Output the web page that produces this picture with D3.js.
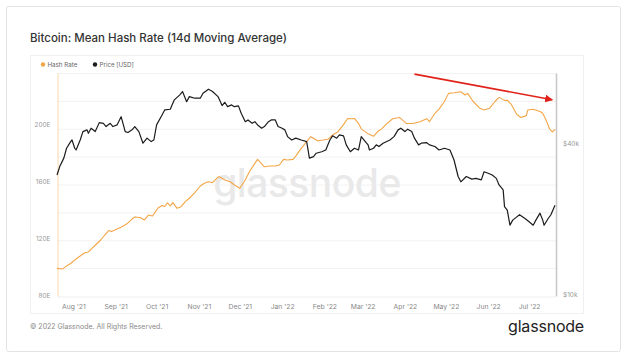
<!DOCTYPE html>
<html>
<head>
<meta charset="utf-8">
<script src="https://cdn.jsdelivr.net/npm/d3@7"></script>
<style>
  html, body { margin: 0; padding: 0; background: #fff; }
  svg { display: block; font-family: Inter, "Noto Sans", sans-serif; }
</style>
</head>
<body>
<svg id="chart" width="630" height="359"></svg>
<script>
// hash rate, 14d moving average (EH/s)
const hashDates = [
  "2021-07-20","2021-07-24","2021-07-27","2021-07-30","2021-08-03","2021-08-07","2021-08-09","2021-08-12","2021-08-15","2021-08-18",
  "2021-08-21","2021-08-24","2021-08-27","2021-08-29","2021-09-02","2021-09-06","2021-09-09","2021-09-13","2021-09-15","2021-09-19",
  "2021-09-22","2021-09-25","2021-09-28","2021-09-30","2021-10-02","2021-10-05","2021-10-07","2021-10-09","2021-10-11","2021-10-13",
  "2021-10-16","2021-10-19","2021-10-22","2021-10-25","2021-10-29","2021-11-02","2021-11-05","2021-11-08","2021-11-11","2021-11-15",
  "2021-11-16","2021-11-20","2021-11-24","2021-11-27","2021-12-01","2021-12-05","2021-12-08","2021-12-12","2021-12-14","2021-12-19",
  "2021-12-23","2021-12-27","2021-12-30","2022-01-02","2022-01-05","2022-01-09","2022-01-11","2022-01-15","2022-01-19","2022-01-22",
  "2022-01-27","2022-01-31","2022-02-04","2022-02-07","2022-02-11","2022-02-15","2022-02-18","2022-02-21","2022-02-23","2022-02-26",
  "2022-02-28","2022-03-05","2022-03-09","2022-03-12","2022-03-15","2022-03-18","2022-03-23","2022-03-28","2022-04-02","2022-04-07",
  "2022-04-12","2022-04-17","2022-04-19","2022-04-23","2022-04-26","2022-04-30","2022-05-03","2022-05-07","2022-05-12","2022-05-15",
  "2022-05-17","2022-05-21","2022-05-26","2022-05-29","2022-06-02","2022-06-06","2022-06-09","2022-06-13","2022-06-15","2022-06-18",
  "2022-06-22","2022-06-25","2022-06-29","2022-06-30","2022-07-04","2022-07-09","2022-07-11","2022-07-14","2022-07-16","2022-07-18","2022-07-20"
];
const hashRate = [
  98.7, 98.2, 100.4, 102.1, 105.3, 108.1, 109.5, 110.2, 113, 115.8,
  118.6, 122.1, 125.3, 124.6, 126.3, 128.1, 129.8, 133.3, 134.7, 134.4,
  132.6, 136.1, 135.4, 138.2, 141.1, 142.8, 142.1, 144.6, 142.5, 144.8,
  140.8, 142, 145.5, 147.9, 151.8, 156.5, 158.4, 159.5, 158.8, 162.8,
  163, 160.7, 159.5, 157.2, 154.9, 160.7, 166.5, 172.4, 175.2, 170,
  170.5, 170.5, 171.2, 175.2, 174.7, 175.2, 177.5, 182.9, 187.6, 191.1,
  188.2, 188.8, 189.5, 192.3, 194.6, 199.6, 203.9, 203.7, 203.9, 200.4,
  196.6, 193.1, 191.4, 194.7, 196.6, 199.6, 203.7, 204.6, 200.4, 200.4,
  201.6, 203.7, 201.6, 207.5, 210.4, 215.8, 221.5, 221.9, 222.6, 220.4,
  221.5, 215.8, 211, 209.8, 211, 215.8, 218.7, 216.6, 216.7, 213.7,
  206.7, 204.6, 205.9, 209.8, 210.4, 208.8, 207.5, 201.6, 196.6, 194.4, 196.3
];

// BTC price (thousands of USD)
const priceDates = [
  "2021-07-20","2021-07-22","2021-07-25","2021-07-27","2021-07-30","2021-07-31","2021-08-02","2021-08-03","2021-08-06","2021-08-08",
  "2021-08-11","2021-08-12","2021-08-14","2021-08-17","2021-08-20","2021-08-23","2021-08-25","2021-08-28","2021-08-30","2021-09-02",
  "2021-09-05","2021-09-08","2021-09-10","2021-09-13","2021-09-15","2021-09-18","2021-09-21","2021-09-24","2021-09-27","2021-09-29",
  "2021-10-01","2021-10-05","2021-10-07","2021-10-11","2021-10-14","2021-10-18","2021-10-20","2021-10-23","2021-10-25","2021-10-29",
  "2021-11-02","2021-11-04","2021-11-08","2021-11-11","2021-11-15","2021-11-18","2021-11-20","2021-11-22","2021-11-25","2021-11-27",
  "2021-11-30","2021-12-02","2021-12-05","2021-12-07","2021-12-10","2021-12-12","2021-12-14","2021-12-17","2021-12-19","2021-12-22",
  "2021-12-24","2021-12-27","2021-12-29","2022-01-01","2022-01-03","2022-01-05","2022-01-08","2022-01-11","2022-01-15","2022-01-19",
  "2022-01-21","2022-01-24","2022-01-26","2022-01-30","2022-02-02","2022-02-05","2022-02-07","2022-02-10","2022-02-12","2022-02-15",
  "2022-02-17","2022-02-20","2022-02-23","2022-02-26","2022-02-28","2022-03-03","2022-03-05","2022-03-06","2022-03-09","2022-03-11",
  "2022-03-13","2022-03-16","2022-03-21","2022-03-24","2022-03-27","2022-03-29","2022-04-01","2022-04-03","2022-04-06","2022-04-08",
  "2022-04-11","2022-04-13","2022-04-17","2022-04-19","2022-04-23","2022-04-26","2022-04-30","2022-05-04","2022-05-07","2022-05-10",
  "2022-05-12","2022-05-16","2022-05-20","2022-05-23","2022-05-27","2022-05-29","2022-06-01","2022-06-04","2022-06-07","2022-06-09",
  "2022-06-12","2022-06-13","2022-06-15","2022-06-17","2022-06-19","2022-06-22","2022-06-24","2022-06-28","2022-07-01","2022-07-04",
  "2022-07-06","2022-07-09","2022-07-11","2022-07-12","2022-07-15","2022-07-17","2022-07-20"
];
const priceK = [
  29.8, 32.2, 34.8, 38.1, 40.5, 41.1, 38.1, 37.5, 41.1, 44.4,
  45.1, 43.7, 45.8, 44.4, 48.2, 47.9, 46.5, 47.9, 46.5, 47.2,
  50.9, 44.4, 44.0, 45.1, 46.5, 44.4, 39.9, 41.8, 40.5, 41.1,
  47.2, 51.7, 54.2, 54.5, 59.4, 62.2, 64.1, 58.4, 61.2, 60.3,
  60.3, 63.1, 65.5, 64.1, 61.2, 56.4, 58.1, 55.8, 56.7, 55.8,
  56.2, 52.5, 48.6, 49.4, 47.9, 48.6, 47.2, 45.8, 46.5, 48.6,
  49.4, 49.4, 46.5, 45.8, 45.1, 42.4, 41.1, 41.8, 41.1, 40.5,
  34.8, 35.3, 36.4, 36.9, 37.5, 41.1, 42.7, 41.8, 43.1, 42.7,
  39.3, 36.9, 38.1, 37.5, 42.4, 40.5, 39.3, 37.5, 38.1, 39.3,
  38.7, 39.9, 41.1, 42.4, 45.1, 45.8, 44.4, 45.4, 44.4, 41.8,
  39.3, 39.9, 40.1, 39.3, 38.7, 37.5, 38.1, 37.5, 34.2, 29.4,
  28.0, 29.4, 28.7, 28.9, 28.5, 30.7, 30.3, 29.8, 28.9, 27.2,
  26.0, 22.3, 21.6, 18.8, 19.7, 20.3, 20.7, 20.0, 19.4, 18.8,
  19.7, 21.0, 19.7, 18.8, 20.0, 20.7, 22.6
];

const hashTicks = [80, 120, 160, 200];
const priceTicks = [10, 40];
// red trend arrow drawn on the hash rate scale
const arrowDates = ["2022-04-08", "2022-07-18"];
const arrowHash = [235, 217];

const parse = d3.timeParse("%Y-%m-%d");
const hashData = hashDates.map((d, i) => ({ date: parse(d), value: hashRate[i] }));
const priceData = priceDates.map((d, i) => ({ date: parse(d), value: priceK[i] }));

const svg = d3.select("#chart");
const plot = { left: 57, right: 556, top: 73, bottom: 296 };
const orange = "#f3a648";

// card + inner panel
svg.append("rect").attr("x", 6.5).attr("y", 6.5).attr("width", 614).attr("height", 345)
  .attr("fill", "#fff").attr("stroke", "#e3e3e3").attr("rx", 2);
svg.append("rect").attr("x", 30.5).attr("y", 55.5).attr("width", 553).attr("height", 258)
  .attr("fill", "#fff").attr("stroke", "#f0f0f0");

svg.append("text").attr("x", 30).attr("y", 42)
  .attr("font-size", 11.5).attr("font-weight", 500).attr("fill", "#333")
  .text("Bitcoin: Mean Hash Rate (14d Moving Average)");

const x = d3.scaleTime()
  .domain([parse("2021-07-20"), parse("2022-07-20")])
  .range([plot.left, plot.right - 1]);
const yHash = d3.scaleLinear().domain([79.3, 235.8]).range([plot.bottom, plot.top]);
const yPrice = d3.scaleLog().domain([9.82, 76]).range([plot.bottom, plot.top]);
const yGrid = d3.scaleLinear().domain([0, 8]).range([plot.bottom, plot.top]);

// grid lines
svg.append("g").selectAll("line").data(d3.range(1, 9)).join("line")
  .attr("x1", plot.left).attr("x2", plot.right)
  .attr("y1", d => yGrid(d) + 0.5).attr("y2", d => yGrid(d) + 0.5)
  .attr("stroke", "#f2f2f2");

// watermark
svg.append("text").attr("x", 307).attr("y", 197).attr("text-anchor", "middle")
  .attr("font-size", 39).attr("font-weight", 500).attr("fill", "#e9e9e9")
  .attr("letter-spacing", -0.5)
  .text("glassnode");

// bottom axis
const xAxis = svg.append("g").attr("transform", `translate(0,${plot.bottom + 0.5})`)
  .call(d3.axisBottom(x).ticks(d3.timeMonth.every(1)).tickFormat(d3.timeFormat("%b '%y")).tickSize(0).tickPadding(8));
xAxis.select(".domain").attr("stroke", "#eee");
xAxis.selectAll("text").attr("font-size", 6.8).attr("fill", "#888").attr("font-family", "Inter, sans-serif");

// left axis
const yAxisL = svg.append("g").attr("transform", `translate(${plot.left + 0.5},0)`)
  .call(d3.axisLeft(yHash).tickValues(hashTicks).tickFormat(d => d + "E").tickSize(0).tickPadding(7));
yAxisL.select(".domain").attr("stroke", "#f8d9ae");
yAxisL.selectAll("text").attr("font-size", 6.5).attr("fill", "#999").attr("font-family", "Inter, sans-serif");

// right axis
const yAxisR = svg.append("g").attr("transform", `translate(${plot.right},0)`)
  .call(d3.axisRight(yPrice).tickValues(priceTicks).tickFormat(d => "$" + d + "k").tickSize(0).tickPadding(7));
yAxisR.select(".domain").attr("stroke", "#c8c8c8").attr("stroke-width", 1.6);
yAxisR.selectAll("text").attr("font-size", 6.5).attr("fill", "#999").attr("font-family", "Inter, sans-serif");

// lines
svg.append("path").datum(hashData)
  .attr("fill", "none").attr("stroke", orange).attr("stroke-width", 1.1)
  .attr("stroke-linejoin", "round")
  .attr("d", d3.line().x(d => x(d.date)).y(d => yHash(d.value)));
svg.append("path").datum(priceData)
  .attr("fill", "none").attr("stroke", "#1c1c1c").attr("stroke-width", 1.2)
  .attr("stroke-linejoin", "round")
  .attr("d", d3.line().x(d => x(d.date)).y(d => yPrice(d.value)));

// legend
const legend = [
  { label: "Hash Rate", color: orange, x: 43 },
  { label: "Price [USD]", color: "#1c1c1c", x: 95 }
];
legend.forEach(l => {
  svg.append("circle").attr("cx", l.x).attr("cy", 64.5).attr("r", 2.2).attr("fill", l.color);
  svg.append("text").attr("x", l.x + 4.5).attr("y", 66.8)
    .attr("font-size", 6.2).attr("fill", "#666").text(l.label);
});

// trend arrow
svg.append("defs").append("marker").attr("id", "head")
  .attr("viewBox", "0 0 10 10").attr("refX", 9).attr("refY", 5)
  .attr("markerWidth", 5).attr("markerHeight", 5).attr("orient", "auto")
  .append("path").attr("d", "M0,0L10,5L0,10z").attr("fill", "#e0221b");
svg.append("line")
  .attr("x1", x(parse(arrowDates[0]))).attr("y1", yHash(arrowHash[0]))
  .attr("x2", x(parse(arrowDates[1]))).attr("y2", yHash(arrowHash[1]))
  .attr("stroke", "#e0221b").attr("stroke-width", 1.6).attr("marker-end", "url(#head)");

// footer
svg.append("text").attr("x", 30).attr("y", 329)
  .attr("font-size", 7).attr("fill", "#8a8a8a")
  .text("© 2022 Glassnode. All Rights Reserved.");
svg.append("text").attr("x", 584).attr("y", 332).attr("text-anchor", "end")
  .attr("font-size", 16).attr("font-weight", 400).attr("fill", "#222").attr("letter-spacing", -0.2)
  .text("glassnode");
</script>
</body>
</html>
